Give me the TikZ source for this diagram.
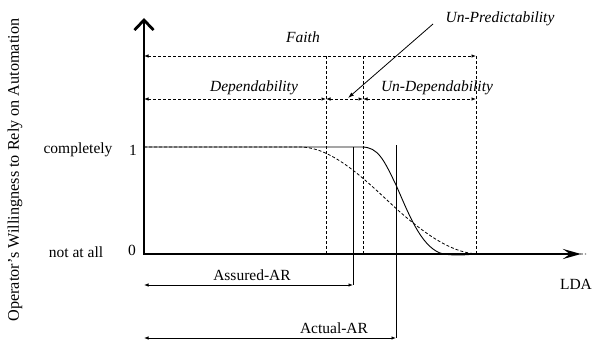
\documentclass[tikz,border=0pt]{standalone}
\usepackage{fontspec}
\setmainfont{Liberation Serif}
\usetikzlibrary{arrows.meta}

\begin{document}
\begin{tikzpicture}[
    x={(1pt,0pt)}, y={(0pt,-1pt)},
    every node/.style={font=\fontsize{15.5}{18}\selectfont, inner sep=0pt},
    guide/.style={dash pattern=on 3pt off 2pt, line width=.8pt},
    dimline/.style={guide, {Latex[length=4.5pt,width=3.5pt]}-{Latex[length=4.5pt,width=3.5pt]}},
    span/.style={line width=.8pt, {Latex[length=4.5pt,width=3.5pt]}-{Latex[length=4.5pt,width=3.5pt]}}]
    \useasboundingbox (0,0) rectangle (596,342);

    % Region limits.
    \coordinate (f0) at (144,56);  \coordinate (f1) at (476,56);
    \coordinate (d0) at (144,99);  \coordinate (d1) at (326,99);
    \coordinate (d2) at (363,99);  \coordinate (d3) at (476,99);
    \draw[guide] (326,56) -- (326,254);
    \draw[guide] (363,56) -- (363,254);
    \draw[guide] (476,56) -- (476,254);

    % Faith and its parts.
    \draw[dimline] (f0) -- (f1);
    \draw[dimline] (d0) -- (d1);
    \draw[dimline] (d1) -- (d2);
    \draw[dimline] (d2) -- (d3);
    \node (faith) at (303,37) {\textit{Faith}};
    \node (dep) at (254,88) {\textit{Dependability}};
    \node (undep) at (437,88) {\textit{Un-Dependability}};
    \node (unpred) at (500,19) {\textit{Un-Predictability}};
    \coordinate (ptr0) at (433,24); \coordinate (ptr1) at (348,98);
    \draw[line width=.8pt, -{Latex[length=6pt,width=4pt]}] (ptr0) -- (ptr1);

    % Willingness curves (dashed tail runs on along the axis).
    \draw[guide] (144,147) -- (300,147)
        .. controls (335,147) and (370,185) .. (400,212)
        .. controls (430,238) and (455,254) .. (480,254) -- (586,254);
    \draw[line width=.9pt] (144,147) -- (362,147)
        .. controls (378,147) and (384,160) .. (396,185)
        .. controls (408,212) and (420,245) .. (440,253)
        .. controls (450,256) and (465,255) .. (476,254);

    % Assured and actual AR.
    \coordinate (as0) at (144,285); \coordinate (as1) at (353,285);
    \coordinate (ac0) at (144,338); \coordinate (ac1) at (396,338);
    \draw[line width=.9pt] (353,147) -- (as1);
    \draw[line width=.9pt] (396,145) -- (ac1);
    \draw[span] (as0) -- (as1);
    \draw[span] (ac0) -- (ac1);
    \node (assured) at (252,275) {Assured-AR};
    \node (actual) at (334,328) {Actual-AR};

    % Axes and labels.
    \draw[line width=2.8pt, {Straight Barb[length=10pt,width=19pt]}-{Stealth[length=18pt,width=10pt,inset=7pt]}]
        (144,18) -- (144,254) -- (581,254);
    \node (ylab) at (15,170) [rotate=90, font=\fontsize{16.2}{19}\selectfont]
        {Operator's Willingness to Rely on Automation};
    \node (compl) at (78,150) {completely};
    \node (one) at (133,150) {1};
    \node (notatall) at (76,252) {not at all};
    \node (zero) at (132,250) {0};
    \node (lda) at (576,284) {LDA};
\end{tikzpicture}
\end{document}
